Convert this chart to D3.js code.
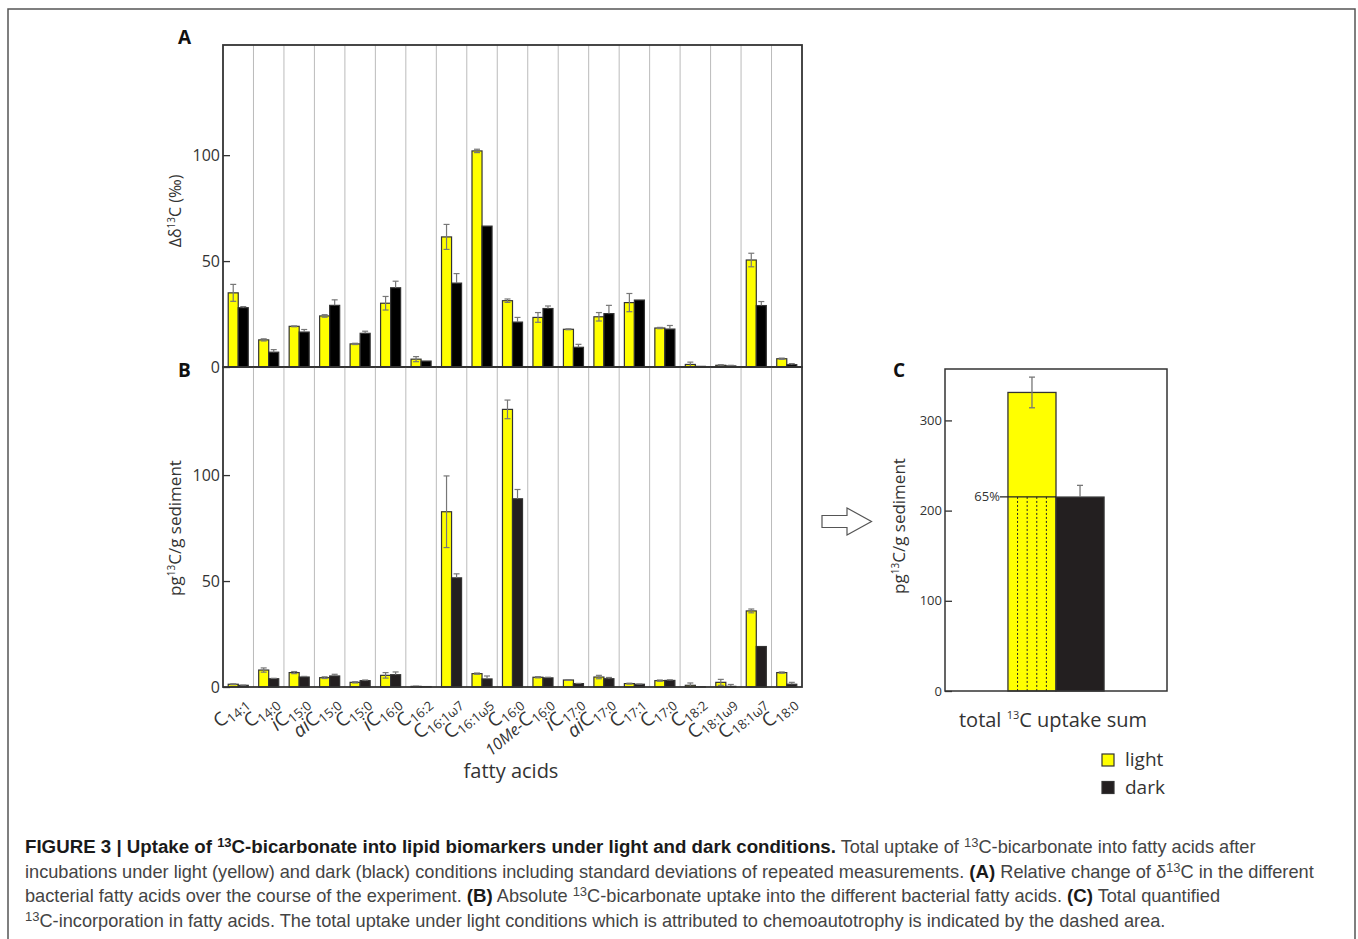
<!DOCTYPE html>
<html>
<head>
<meta charset="utf-8">
<script src="https://cdn.jsdelivr.net/npm/d3@7"></script>
<style>
  body { margin: 0; background: #fff; }
  text { font-family: "Open Sans", sans-serif; }
  .cap { font-family: "Liberation Sans", Arial, sans-serif; }
</style>
</head>
<body>
<svg id="chart" width="1358" height="939"></svg>
<script>
// fatty acid names: italic prefix + "C" + subscript
var acidPrefix = ['', '', 'i', 'ai', '', 'i', '', '', '', '', '10Me-', 'i', 'ai', '', '', '', '', '', ''];
var acidSub = ['14:1', '14:0', '15:0', '15:0', '15:0', '16:0', '16:2', '16:1\u03c97', '16:1\u03c95', '16:0',
  '16:0', '17:0', '17:0', '17:1', '17:0', '18:2', '18:1\u03c99', '18:1\u03c97', '18:0'];
var acids = acidPrefix.map(function(p, i) { return p + 'C' + acidSub[i]; });

// panel A: change of d13C (permil)
var deltaLight    = [35.0, 12.8, 19.2, 24.1, 10.9, 30.1, 3.7, 61.4, 102.0, 31.3, 23.4, 17.8, 23.7, 30.4, 18.4, 1.2, 0.8, 50.5, 3.9];
var deltaLightErr = [4.0, 0.5, 0.2, 0.6, 0.3, 3.2, 1.2, 5.9, 0.8, 0.8, 2.3, 0.2, 2.0, 4.3, 0.3, 1.1, 0.3, 3.2, 0.3];
var deltaDark     = [28.0, 7.0, 16.5, 29.1, 15.9, 37.4, 2.8, 39.6, 66.5, 21.2, 27.6, 9.3, 25.2, 31.6, 17.9, 0.3, 0.5, 29.0, 1.1];
var deltaDarkErr  = [0.5, 1.2, 1.2, 2.6, 1.0, 3.1, 0, 4.5, 0, 2.2, 1.2, 1.4, 3.9, 0, 1.7, 0, 0.3, 1.9, 0.5];

// panel B: absolute uptake (pg 13C / g sediment)
var uptakeLight    = [1.3, 8.0, 6.8, 4.4, 2.2, 5.5, 0.3, 82.7, 6.3, 131.0, 4.6, 3.3, 4.7, 1.6, 3.0, 0.8, 2.2, 35.9, 6.8];
var uptakeLightErr = [0.2, 1.0, 0.5, 0.4, 0.3, 1.3, 0.1, 16.9, 0.3, 4.4, 0.3, 0.2, 0.8, 0.2, 0.3, 1.1, 1.4, 0.9, 0.3];
var uptakeDark     = [0.8, 3.9, 4.7, 5.2, 3.0, 5.8, 0.2, 51.5, 3.8, 88.8, 4.3, 1.6, 3.9, 1.3, 3.1, 0.1, 0.3, 19.1, 1.3];
var uptakeDarkErr  = [0.1, 0.2, 0.3, 0.8, 0.3, 1.3, 0, 1.9, 1.4, 4.4, 0.3, 0.1, 0.6, 0.1, 0.3, 0, 0.9, 0, 0.9];

// panel C: total uptake sum
var conditions = ['light', 'dark'];
var totalValues = [331, 215];
var totalErr = [17, 13];
var lightShare = 0.65;

var tickA = [0, 50, 100];
var tickB = [0, 50, 100];
var tickC = [0, 100, 200, 300];

var yellow = '#ffff00';
var svg = d3.select('#chart');

// outer frame
svg.append('rect')
  .attr('x', 8).attr('y', 9).attr('width', 1347).attr('height', 960)
  .attr('fill', 'none').attr('stroke', '#555').attr('stroke-width', 1.5);

var x = d3.scaleBand().domain(acids).range([223, 802]);
var xs = d3.scaleBand().domain(conditions).range([0, x.bandwidth()]).paddingOuter(0.52);

var yA = d3.scaleLinear().domain([0, 152]).range([367, 45]);
var yB = d3.scaleLinear().domain([0, 151]).range([687, 367]);

function drawPanel(y, light, lightErr, dark, darkErr, darkColor, ticks) {
  var g = svg.append('g');
  var top = y.range()[1], bottom = y.range()[0];

  // grey separators between fatty acids
  g.selectAll('line.sep').data(acids.slice(1)).enter()
    .append('line')
    .attr('x1', function(d) { return x(d); })
    .attr('x2', function(d) { return x(d); })
    .attr('y1', top).attr('y2', bottom)
    .attr('stroke', '#bbb').attr('stroke-width', 1);

  var rows = acids.map(function(a, i) {
    return [{ acid: a, c: 'light', v: light[i], e: lightErr[i] },
            { acid: a, c: 'dark', v: dark[i], e: darkErr[i] }];
  });
  var flat = [].concat.apply([], rows);

  g.selectAll('rect.bar').data(flat).enter()
    .append('rect')
    .attr('x', function(d) { return x(d.acid) + xs(d.c); })
    .attr('y', function(d) { return y(d.v); })
    .attr('width', xs.bandwidth())
    .attr('height', function(d) { return y(0) - y(d.v); })
    .attr('fill', function(d) { return d.c == 'light' ? yellow : darkColor; })
    .attr('stroke', '#333')
    .attr('stroke-width', 1.2);

  // error bars
  var eb = g.selectAll('g.err').data(flat.filter(function(d) { return d.e > 0; })).enter()
    .append('g')
    .attr('stroke', '#777').attr('stroke-width', 1.2);
  eb.append('line')
    .attr('x1', function(d) { return x(d.acid) + xs(d.c) + xs.bandwidth() / 2; })
    .attr('x2', function(d) { return x(d.acid) + xs(d.c) + xs.bandwidth() / 2; })
    .attr('y1', function(d) { return d.c == 'light' ? y(Math.max(d.v - d.e, 0)) : y(d.v); })
    .attr('y2', function(d) { return y(d.v + d.e); });
  eb.append('line')
    .attr('x1', function(d) { return x(d.acid) + xs(d.c) + xs.bandwidth() / 2 - 3; })
    .attr('x2', function(d) { return x(d.acid) + xs(d.c) + xs.bandwidth() / 2 + 3; })
    .attr('y1', function(d) { return y(d.v + d.e); })
    .attr('y2', function(d) { return y(d.v + d.e); });
  eb.filter(function(d) { return d.c == 'light' && d.v - d.e > 0; }).append('line')
    .attr('x1', function(d) { return x(d.acid) + xs(d.c) + xs.bandwidth() / 2 - 3; })
    .attr('x2', function(d) { return x(d.acid) + xs(d.c) + xs.bandwidth() / 2 + 3; })
    .attr('y1', function(d) { return y(d.v - d.e); })
    .attr('y2', function(d) { return y(d.v - d.e); });

  // frame
  g.append('rect')
    .attr('x', 223).attr('y', top).attr('width', 802 - 223).attr('height', bottom - top)
    .attr('fill', 'none').attr('stroke', '#333').attr('stroke-width', 1.8);

  var ax = g.append('g').attr('transform', 'translate(223,0)')
    .call(d3.axisLeft(y).tickValues(ticks).tickSizeInner(-7).tickSizeOuter(0).tickPadding(3));
  ax.select('.domain').remove();
  ax.selectAll('.tick line').attr('stroke', '#333').attr('stroke-width', 1.3);
  ax.selectAll('.tick text').attr('font-family', 'Open Sans').attr('font-size', 16).attr('fill', '#333');
  return g;
}

drawPanel(yA, deltaLight, deltaLightErr, deltaDark, deltaDarkErr, '#000', tickA);
drawPanel(yB, uptakeLight, uptakeLightErr, uptakeDark, uptakeDarkErr, '#231f20', tickB);

// x labels (rotated, with subscripts)
var xl = svg.append('g');
xl.selectAll('text').data(acids).enter()
  .append('text')
  .attr('transform', function(d) { return 'translate(' + (x(d) + x.bandwidth() / 2 + 3) + ',695) rotate(-40)'; })
  .attr('text-anchor', 'end')
  .attr('dy', '0.75em')
  .attr('fill', '#333')
  .each(function(d, i) {
    var t = d3.select(this);
    if (acidPrefix[i]) t.append('tspan').attr('font-style', 'italic').attr('font-size', acidPrefix[i] == '10Me-' ? 16 : 19).text(acidPrefix[i]);
    t.append('tspan').attr('font-size', 19).text('C');
    t.append('tspan').attr('font-size', 13).attr('dy', 4).text(acidSub[i]);
  });

svg.append('text').attr('x', 511).attr('y', 778).attr('text-anchor', 'middle')
  .attr('font-size', 20).attr('fill', '#333').text('fatty acids');

// y titles
var tA = svg.append('text').attr('transform', 'translate(181,211) rotate(-90)')
  .attr('text-anchor', 'middle').attr('font-size', 16).attr('fill', '#333');
tA.append('tspan').text('\u0394\u03b4');
tA.append('tspan').attr('font-size', 10).attr('dy', -6).text('13');
tA.append('tspan').attr('dy', 6).text('C (\u2030)');

function pgLabel(tx, ty) {
  var t = svg.append('text').attr('transform', 'translate(' + tx + ',' + ty + ') rotate(-90)')
    .attr('text-anchor', 'middle').attr('font-size', 17).attr('fill', '#333');
  t.append('tspan').text('pg');
  t.append('tspan').attr('font-size', 10).attr('dy', -6).text('13');
  t.append('tspan').attr('dy', 6).text('C/g sediment');
}
pgLabel(181, 528);
pgLabel(905, 526);

// panel letters
[['A', 178, 44], ['B', 178, 377], ['C', 893, 377]].forEach(function(p) {
  svg.append('text').attr('x', p[1]).attr('y', p[2])
    .attr('font-family', 'Liberation Sans, Arial, sans-serif').attr('font-weight', 'bold')
    .attr('font-size', 19).attr('fill', '#111').text(p[0]);
});

// arrow
svg.append('path')
  .attr('d', 'M822,515.5 L847,515.5 L847,508 L871.5,521.5 L847,535 L847,527.5 L822,527.5 Z')
  .attr('fill', '#fff').attr('stroke', '#555').attr('stroke-width', 1.2);

// panel C
var xc = d3.scaleBand().domain(conditions).range([945, 1167]).paddingInner(0).paddingOuter(1.31);
var yC = d3.scaleLinear().domain([0, 357]).range([691, 369]);
var gc = svg.append('g');
gc.selectAll('rect.bar').data(conditions).enter()
  .append('rect')
  .attr('x', function(d) { return xc(d); })
  .attr('y', function(d, i) { return yC(totalValues[i]); })
  .attr('width', xc.bandwidth())
  .attr('height', function(d, i) { return yC(0) - yC(totalValues[i]); })
  .attr('fill', function(d) { return d == 'light' ? yellow : '#231f20'; })
  .attr('stroke', '#333').attr('stroke-width', 1.3);

gc.selectAll('g.err').data(conditions).enter()
  .append('g').attr('stroke', '#777').attr('stroke-width', 1.3)
  .each(function(d, i) {
    var cx = xc(d) + xc.bandwidth() / 2;
    var g = d3.select(this);
    var lo = d == 'light' ? totalValues[i] - totalErr[i] : totalValues[i];
    g.append('line').attr('x1', cx).attr('x2', cx).attr('y1', yC(lo)).attr('y2', yC(totalValues[i] + totalErr[i]));
    g.append('line').attr('x1', cx - 3).attr('x2', cx + 3).attr('y1', yC(totalValues[i] + totalErr[i])).attr('y2', yC(totalValues[i] + totalErr[i]));
    if (d == 'light') g.append('line').attr('x1', cx - 3).attr('x2', cx + 3).attr('y1', yC(lo)).attr('y2', yC(lo));
  });

// chemoautotrophic share of the light bar
var shareY = yC(totalValues[0] * lightShare);
gc.append('line')
  .attr('x1', xc('light') - 8).attr('x2', xc('light') + xc.bandwidth())
  .attr('y1', shareY).attr('y2', shareY)
  .attr('stroke', '#222').attr('stroke-width', 1.3);
gc.selectAll('line.dot').data([0.2, 0.4, 0.6, 0.8]).enter()
  .append('line')
  .attr('x1', function(f) { return xc('light') + f * xc.bandwidth(); })
  .attr('x2', function(f) { return xc('light') + f * xc.bandwidth(); })
  .attr('y1', shareY).attr('y2', yC(0))
  .attr('stroke', '#222').attr('stroke-width', 1).attr('stroke-dasharray', '2,2');
gc.append('text').attr('x', xc('light') - 8).attr('y', shareY).attr('dy', '0.35em')
  .attr('text-anchor', 'end').attr('font-size', 13).attr('fill', '#333')
  .text(Math.round(lightShare * 100) + '%');

gc.append('rect').attr('x', 945).attr('y', 369).attr('width', 1167 - 945).attr('height', 691 - 369)
  .attr('fill', 'none').attr('stroke', '#333').attr('stroke-width', 1.5);
var axc = gc.append('g').attr('transform', 'translate(945,0)')
  .call(d3.axisLeft(yC).tickValues(tickC).tickSizeInner(-7).tickSizeOuter(0).tickPadding(3));
axc.select('.domain').remove();
axc.selectAll('.tick line').attr('stroke', '#333').attr('stroke-width', 1.3);
axc.selectAll('.tick text').attr('font-family', 'Open Sans').attr('font-size', 13).attr('fill', '#333');

var tt = svg.append('text').attr('x', 1053).attr('y', 727).attr('text-anchor', 'middle')
  .attr('font-size', 20).attr('fill', '#333');
tt.append('tspan').text('total ');
tt.append('tspan').attr('font-size', 11).attr('dy', -8).text('13');
tt.append('tspan').attr('dy', 8).text('C uptake sum');

// legend
var lg = svg.append('g');
lg.selectAll('rect').data(conditions).enter()
  .append('rect')
  .attr('x', 1102).attr('y', function(d, i) { return 754 + i * 27.5; })
  .attr('width', 12).attr('height', 12)
  .attr('fill', function(d) { return d == 'light' ? yellow : '#231f20'; })
  .attr('stroke', '#333').attr('stroke-width', 1.2);
lg.selectAll('text').data(conditions).enter()
  .append('text')
  .attr('x', 1125).attr('y', function(d, i) { return 766 + i * 27.5; })
  .attr('font-size', 19).attr('fill', '#333').text(function(d) { return d; });

// caption
var capLines = [
  [['b', 'FIGURE 3 | Uptake of '], ['bs', '13'], ['b', 'C-bicarbonate into lipid biomarkers under light and dark conditions.'],
   ['n', ' Total uptake of '], ['s', '13'], ['n', 'C-bicarbonate into fatty acids after']],
  [['n', 'incubations under light (yellow) and dark (black) conditions including standard deviations of repeated measurements. '],
   ['b', '(A)'], ['n', ' Relative change of \u03b4'], ['s', '13'], ['n', 'C in the different']],
  [['n', 'bacterial fatty acids over the course of the experiment. '], ['b', '(B)'], ['n', ' Absolute '], ['s', '13'],
   ['n', 'C-bicarbonate uptake into the different bacterial fatty acids. '], ['b', '(C)'], ['n', ' Total quantified']],
  [['s', '13'], ['n', 'C-incorporation in fatty acids. The total uptake under light conditions which is attributed to chemoautotrophy is indicated by the dashed area.']]
];
capLines.forEach(function(line, li) {
  var t = svg.append('text').attr('class', 'cap').attr('x', 25).attr('y', 853 + li * 24.5)
    .attr('font-size', 18.2).attr('fill', '#444');
  var raised = false;
  line.forEach(function(part) {
    var sp = t.append('tspan').text(part[1]);
    var sup = part[0] == 's' || part[0] == 'bs';
    if (part[0] == 'b' || part[0] == 'bs') sp.attr('font-weight', 'bold').attr('fill', '#1a1a1a').attr('font-size', 18.7);
    if (sup) { sp.attr('font-size', 13).attr('dy', raised ? 0 : -6); raised = true; }
    else if (raised) { sp.attr('dy', 6); raised = false; }
  });
});
</script>
</body>
</html>
